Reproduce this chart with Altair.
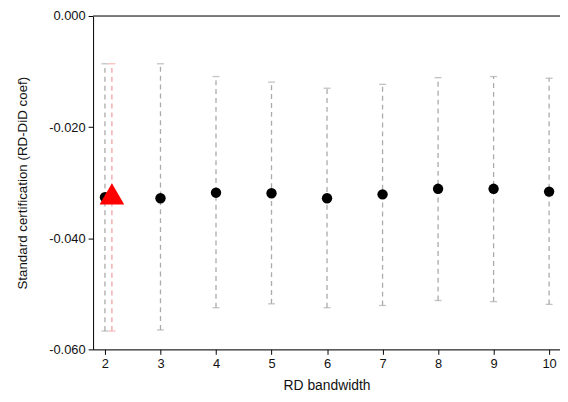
import altair as alt
import pandas as pd

bandwidth = [2, 3, 4, 5, 6, 7, 8, 9, 10]
coef = [-0.0326, -0.0328, -0.0318, -0.0319, -0.0328, -0.0321, -0.0311, -0.0311, -0.0316]
ci_lo = [-0.0567, -0.0565, -0.0525, -0.0518, -0.0525, -0.0521, -0.0512, -0.0514, -0.0519]
ci_hi = [-0.0086, -0.0086, -0.0109, -0.0119, -0.0130, -0.0123, -0.0111, -0.0109, -0.0112]

hl_bw = [2.125]
hl_coef = [-0.0320]
hl_lo = [-0.0567]
hl_hi = [-0.0086]

y_ticks = [0.0, -0.02, -0.04, -0.06]

df = pd.DataFrame({"bw": bandwidth, "coef": coef, "lo": ci_lo, "hi": ci_hi})
hl = pd.DataFrame({"bw": hl_bw, "coef": hl_coef, "lo": hl_lo, "hi": hl_hi})

FONT = "Liberation Sans"

xscale = alt.Scale(domain=[1.786, 10.196], nice=False, zero=False)
yscale = alt.Scale(domain=[-0.06, 0.0], nice=False, zero=False)

x_axis = alt.Axis(values=bandwidth, format="d", title="RD bandwidth", grid=False, tickSize=5,
                  domainColor="black", tickColor="black", labelColor="#111",
                  labelFont=FONT, labelFontSize=13, titleFont=FONT, titleFontSize=14,
                  titleFontWeight="normal", titleColor="#111", labelPadding=3, titlePadding=9)
y_axis = alt.Axis(values=y_ticks, title="Standard certification (RD-DiD coef)", grid=False,
                  tickSize=5, domainColor="black", tickColor="black", labelColor="#111",
                  labelExpr="replace(format(datum.value, '.3f'), '\u2212', '-')",
                  labelFont=FONT, labelFontSize=13, titleFont=FONT, titleFontSize=13.5,
                  titleFontWeight="normal", titleColor="#111", labelPadding=3, titlePadding=19)

base = alt.Chart(df)

zero_line = alt.Chart(pd.DataFrame({"y": [0.0]})).mark_rule(color="#555", strokeWidth=1.6).encode(
    y=alt.Y("y:Q", scale=yscale, axis=y_axis)
)

ci = base.mark_rule(color="#aaaaaa", strokeWidth=1.3, strokeDash=[5, 4]).encode(
    x=alt.X("bw:Q", scale=xscale, axis=x_axis),
    y=alt.Y("lo:Q", scale=yscale, axis=y_axis),
    y2="hi:Q",
)
cap_lo = base.mark_tick(orient="horizontal", size=7, thickness=1.3, color="#aaaaaa").encode(
    x=alt.X("bw:Q", scale=xscale), y=alt.Y("lo:Q", scale=yscale))
cap_hi = base.mark_tick(orient="horizontal", size=7, thickness=1.3, color="#aaaaaa").encode(
    x=alt.X("bw:Q", scale=xscale), y=alt.Y("hi:Q", scale=yscale))

hbase = alt.Chart(hl)
hci = hbase.mark_rule(color="#f4a3a3", strokeWidth=1.3, strokeDash=[5, 4]).encode(
    x=alt.X("bw:Q", scale=xscale), y=alt.Y("lo:Q", scale=yscale), y2="hi:Q")
hcap_lo = hbase.mark_tick(orient="horizontal", size=7, thickness=1.3, color="#f4a3a3").encode(
    x=alt.X("bw:Q", scale=xscale), y=alt.Y("lo:Q", scale=yscale))
hcap_hi = hbase.mark_tick(orient="horizontal", size=7, thickness=1.3, color="#f4a3a3").encode(
    x=alt.X("bw:Q", scale=xscale), y=alt.Y("hi:Q", scale=yscale))

pts = base.mark_point(shape="circle", filled=True, color="black", size=110, opacity=1).encode(
    x=alt.X("bw:Q", scale=xscale), y=alt.Y("coef:Q", scale=yscale))
tri = hbase.mark_point(shape="triangle-up", filled=True, color="#ff0000", size=620, opacity=1).encode(
    x=alt.X("bw:Q", scale=xscale), y=alt.Y("coef:Q", scale=yscale))

chart = alt.layer(ci, cap_lo, cap_hi, hci, hcap_lo, hcap_hi, pts, tri, zero_line).properties(
    width=472, height=337,
    autosize=alt.AutoSizeParams(type="none"),
    padding={"left": 86, "top": 6, "right": 0, "bottom": 42},
).configure_view(stroke=None).configure(background="white")

chart.save("out.html", embed_options={"renderer": "svg", "actions": False})
